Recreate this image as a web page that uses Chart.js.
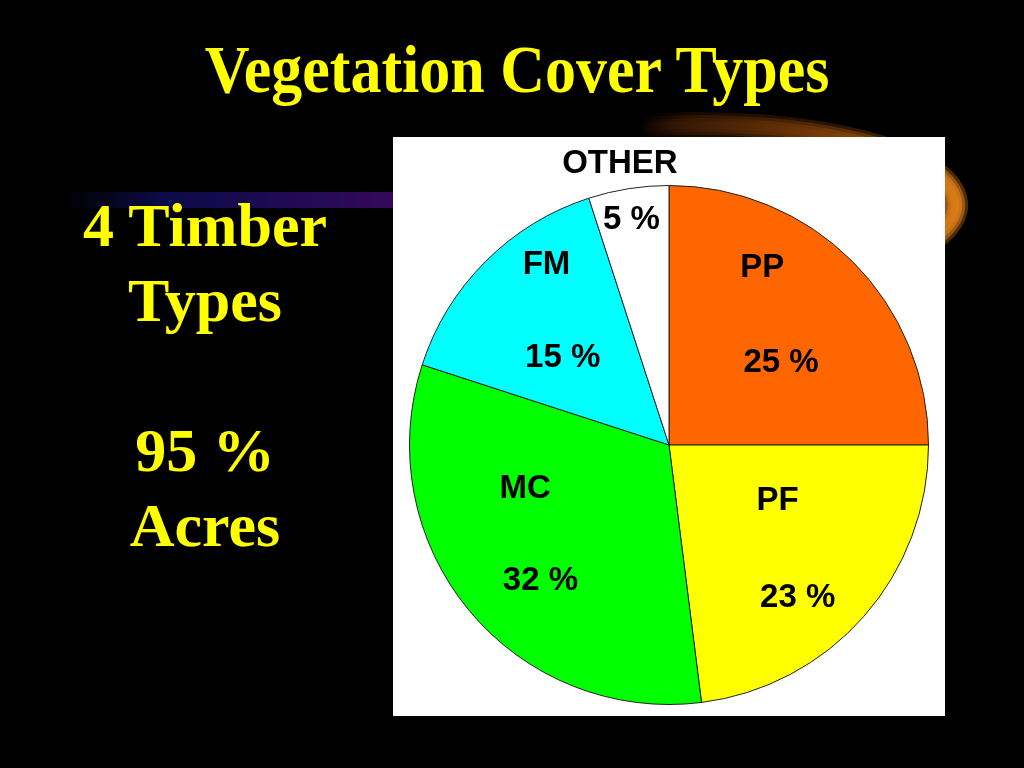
<!DOCTYPE html>
<html>
<head>
<meta charset="utf-8">
<script src="https://cdn.jsdelivr.net/npm/chart.js@4.4.1/dist/chart.umd.min.js"></script>
<style>
  html, body { margin: 0; padding: 0; background: #000; width: 1024px; height: 768px; overflow: hidden; }
  #deco { position: absolute; left: 0; top: 0; }
  #title { position: absolute; left: 0; width: 1034px; text-align: center;
    font-family: "Liberation Serif", "Times New Roman", serif; font-weight: bold; font-size: 62px;
    color: #FFFF00; line-height: 62px; top: 40px; white-space: nowrap;
    transform: scaleY(1.08); transform-origin: 50% 52px; }
  #side { position: absolute; left: 60px; width: 290px; top: 188px; text-align: center;
    font-family: "Liberation Serif", "Times New Roman", serif; font-weight: bold; font-size: 62px;
    color: #FFFF00; line-height: 75px; }
  #box { position: absolute; left: 393px; top: 137px; width: 552px; height: 579px; background: #fff; }
</style>
</head>
<body>
<canvas id="deco" width="1024" height="768"></canvas>
<div id="title">Vegetation Cover Types</div>
<div id="side">4 Timber<br>Types<br>&nbsp;<br>95 %<br>Acres</div>
<div id="box"><canvas id="pie" width="552" height="579"></canvas></div>
<script>
// ---- data ----
const categories = ["PP", "PF", "MC", "FM", "OTHER"];
const shares = [25, 23, 32, 15, 5];
const valueLabels = ["25 %", "23 %", "32 %", "15 %", "5 %"];
const sliceColors = ["#FF6600", "#FFFF00", "#00FF00", "#00FFFF", "#FFFFFF"];

// label placement (polar: degrees clockwise from top, fraction of radius)
const nameLayout  = [[27.8, 0.77], [117.2, 0.47], [253, 0.58], [325.8, 0.84], [350.1, 1.10]];
const valueLayout = [[53.8, 0.535], [139.9, 0.77], [223.5, 0.72], [309.4, 0.53], [350.5, 0.88]];

// ---- decorative background ----
(function () {
  const c = document.getElementById('deco').getContext('2d');
  // purple band
  const g = c.createLinearGradient(60, 0, 393, 0);
  g.addColorStop(0, 'rgba(10,10,60,0)');
  g.addColorStop(0.3, 'rgba(12,12,80,0.9)');
  g.addColorStop(1, '#34095a');
  c.fillStyle = g;
  c.fillRect(60, 192, 340, 16);
  // orange swoosh (ring)
  const og = c.createLinearGradient(640, 0, 965, 0);
  og.addColorStop(0, 'rgba(40,15,0,0)');
  og.addColorStop(0.15, '#3a1a04');
  og.addColorStop(0.6, '#7a3d08');
  og.addColorStop(1, '#e0801a');
  c.save();
  c.strokeStyle = og;
  for (let i = 0; i < 4; i++) {
    c.globalAlpha = 0.35 + i * 0.2;
    c.lineWidth = 26 - i * 6;
    c.beginPath();
    c.ellipse(700, 205, 255, 80, 0, Math.PI * 1.08, Math.PI * 2.2);
    c.stroke();
  }
  c.restore();
})();

// ---- pie ----
const labelPlugin = {
  id: 'sliceLabels',
  afterDatasetsDraw(chart) {
    const ctx = chart.ctx;
    const arcs = chart.getDatasetMeta(0).data;
    ctx.save();
    ctx.fillStyle = '#000';
    ctx.font = 'bold 33px "Liberation Sans", Arial, sans-serif';
    ctx.textAlign = 'center';
    ctx.textBaseline = 'middle';
    arcs.forEach((arc, i) => {
      const R = arc.outerRadius;
      const put = (txt, lay) => {
        const a = lay[0] * Math.PI / 180;
        ctx.fillText(txt, arc.x + Math.sin(a) * R * lay[1], arc.y - Math.cos(a) * R * lay[1]);
      };
      put(categories[i], nameLayout[i]);
      put(valueLabels[i], valueLayout[i]);
    });
    ctx.restore();
  }
};

new Chart(document.getElementById('pie'), {
  type: 'pie',
  data: {
    labels: categories,
    datasets: [{
      data: shares,
      backgroundColor: sliceColors,
      borderColor: '#222',
      borderWidth: 1
    }]
  },
  options: {
    responsive: false,
    animation: false,
    layout: { padding: { top: 48, bottom: 11, left: 16, right: 16 } },
    plugins: { legend: { display: false }, tooltip: { enabled: false } }
  },
  plugins: [labelPlugin]
});
</script>
</body>
</html>
